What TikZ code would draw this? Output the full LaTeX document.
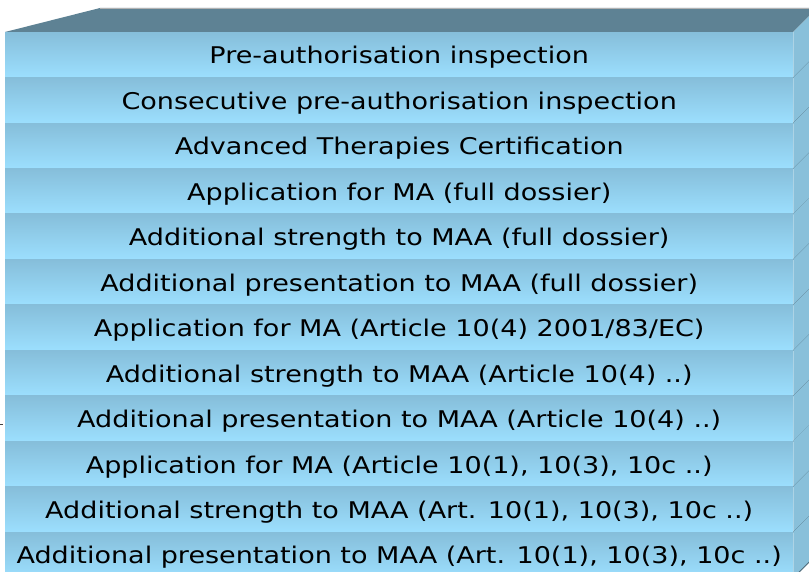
\documentclass[tikz,border=0pt]{standalone}
\usepackage{fontspec}
\setmainfont{DejaVu Sans}
\usetikzlibrary{calc}
\definecolor{rowtop}{RGB}{134,190,218}
\definecolor{rowbot}{RGB}{156,223,254}
\definecolor{lidface}{RGB}{94,130,148}
\definecolor{sideface}{RGB}{137,192,218}
\definecolor{edgeline}{RGB}{74,104,120}
% labels are set in a slightly widened face
\newcommand{\widetext}[1]{\scalebox{1.175}[1]{#1}}
\tikzset{
  layer/.style={rectangle, inner sep=0pt, minimum width=788pt, minimum height=45.45pt,
    anchor=north west, top color=rowtop, bottom color=rowbot, shading angle=0},
  layertext/.style={anchor=base, inner sep=0pt, font=\fontsize{23}{26}\selectfont, text=black},
  sideseg/.style={fill=sideface},
  sideedge/.style={draw=edgeline, line width=0.8pt},
}
\begin{document}
\begin{tikzpicture}[x=1pt,y=-1pt]
\useasboundingbox (0,0) rectangle (809,572);
\clip (0,0) rectangle (809,572);
% top face of the stack
\fill[lidface] (5,32) -- (100,8) -- (809,8) -- (809,16) -- (793,32) -- cycle;
\draw[gray!60, line width=0.8pt] (100,8) -- (809,8);
% stacked layers
\foreach \k/\txt in {
  0/{Pre-authorisation inspection},
  1/{Consecutive pre-authorisation inspection},
  2/{Advanced Therapies Certification},
  3/{Application for MA (full dossier)},
  4/{Additional strength to MAA (full dossier)},
  5/{Additional presentation to MAA (full dossier)},
  6/{Application for MA (Article 10(4) 2001/83/EC)},
  7/{Additional strength to MAA (Article 10(4) ..)},
  8/{Additional presentation to MAA (Article 10(4) ..)},
  9/{Application for MA (Article 10(1), 10(3), 10c ..)},
  10/{Additional strength to MAA (Art. 10(1), 10(3), 10c ..)},
  11/{Additional presentation to MAA (Art. 10(1), 10(3), 10c ..)}} {
  \pgfmathsetmacro{\ytop}{32+45.45*\k}
  \node[layer] (row\k) at (5,\ytop) {};
  \node[layertext] (lbl\k) at ($(row\k.north)+(0,32)$) {\widetext{\txt}};
  % right side face segment
  \fill[sideseg] (row\k.north east) -- ++(16,-16) -- ++(0,45.45) -- (row\k.south east) -- cycle;
  \draw[sideedge] (row\k.south east) -- ++(16,-16);
}
% small mark at the left margin
\coordinate (markA) at (0,424);
\coordinate (markB) at (2.5,424);
\draw[darkgray, line width=1pt] (markA) -- (markB);
\end{tikzpicture}
\end{document}
